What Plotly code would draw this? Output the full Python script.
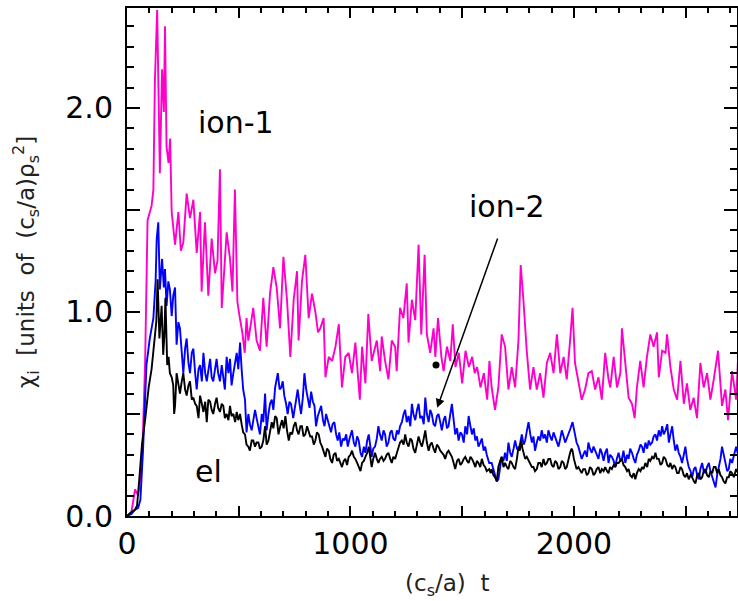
import plotly.graph_objects as go

# (time, chi) samples
ion1_points = [
(0,0.0),(20,0.02),(36,0.13),(50,0.10),(67,0.25),(81,0.75),(92,1.45),(99,1.48),(110,1.52),(118,1.60),
(125,2.14),(135,2.48),(141,2.10),(147,1.68),(157,2.19),(165,1.98),(170,2.40),(177,1.81),(186,1.73),(193,1.85),
(200,1.49),(215,1.33),(230,1.49),(241,1.30),(252,1.34),(267,1.58),(282,1.46),(297,1.55),(312,1.29),(327,1.49),
(334,1.10),(349,1.44),(364,1.08),(379,1.36),(394,1.19),(405,1.25),(416,1.70),(424,1.02),(435,1.20),(446,1.39),
(461,1.26),(472,1.10),(483,1.60),(494,1.05),(505,0.97),(516,0.90),(527,0.80),(535,0.97),(543,0.86),(555,0.95),
(565,1.02),(580,0.86),(595,0.81),(610,1.07),(625,0.83),(640,1.09),(655,1.22),(670,1.12),(685,0.92),(700,1.27),
(716,1.06),(731,0.78),(746,1.06),(761,1.20),(768,0.86),(783,1.15),(798,1.28),(813,0.97),(828,1.09),(843,1.00),
(855,0.90),(865,0.92),(880,0.97),(888,0.68),(903,0.78),(918,0.76),(933,0.83),(948,0.94),(962,0.63),(977,0.78),
(992,0.80),(1007,0.70),(1022,0.85),(1042,0.57),(1052,0.83),(1067,0.65),(1080,0.99),(1095,0.76),(1107,0.82),(1118,0.86),
(1133,0.71),(1140,0.88),(1155,0.76),(1170,0.67),(1185,0.86),(1200,0.83),(1207,0.71),(1222,1.02),(1237,0.97),(1252,1.14),
(1260,0.85),(1275,1.06),(1290,0.96),(1305,1.33),(1317,0.89),(1332,1.28),(1342,0.89),(1357,0.80),(1372,0.92),(1380,0.78),
(1392,0.97),(1407,0.78),(1417,0.71),(1432,0.83),(1447,0.76),(1458,0.94),(1470,0.73),(1485,0.80),(1500,0.65),(1515,0.81),
(1530,0.73),(1545,0.78),(1556,0.70),(1567,0.73),(1582,0.63),(1597,0.70),(1612,0.57),(1622,0.76),(1632,0.63),(1647,0.52),
(1662,0.63),(1677,0.89),(1692,0.83),(1707,0.62),(1722,0.73),(1737,0.63),(1752,0.86),(1762,1.23),(1774,1.06),(1789,0.81),
(1804,0.62),(1819,0.73),(1834,0.62),(1849,0.70),(1864,0.58),(1879,0.75),(1894,0.80),(1909,0.70),(1924,0.89),(1939,0.70),
(1954,0.78),(1968,0.67),(1983,0.86),(1994,1.02),(2005,0.75),(2020,0.65),(2035,0.57),(2050,0.62),(2065,0.70),(2080,0.71),
(2095,0.62),(2110,0.68),(2125,0.57),(2140,0.80),(2155,0.67),(2163,0.63),(2178,0.78),(2193,0.63),(2208,0.70),(2215,0.92),
(2230,0.73),(2245,0.58),(2260,0.55),(2272,0.48),(2282,0.63),(2297,0.76),(2312,0.63),(2327,0.78),(2342,0.89),(2357,0.83),
(2372,0.90),(2380,0.68),(2395,0.81),(2410,0.80),(2417,0.89),(2432,0.73),(2447,0.62),(2462,0.57),(2477,0.76),(2492,0.55),
(2506,0.65),(2521,0.52),(2536,0.58),(2551,0.48),(2566,0.75),(2581,0.63),(2596,0.70),(2611,0.57),(2626,0.67),(2645,0.81),
(2663,0.54),(2678,0.62),(2690,0.47),(2708,0.71),(2726,0.57),(2735,0.78),
]

ion2_points = [
(0,0.0),(20,0.01),(35,0.03),(50,0.04),(60,0.08),(72,0.33),(87,0.74),(102,0.87),(118,0.97),(128,1.15),
(133,1.36),(140,1.44),(147,1.11),(157,1.26),(165,1.12),(170,1.21),(177,1.03),(185,1.15),(192,1.11),(200,0.98),
(207,1.08),(215,1.12),(222,0.84),(230,0.95),(237,0.92),(245,0.80),(252,0.70),(260,0.82),(267,0.87),(275,0.75),
(282,0.70),(290,0.80),(297,0.82),(305,0.70),(312,0.62),(320,0.72),(327,0.74),(335,0.66),(342,0.80),(350,0.70),
(357,0.66),(365,0.72),(372,0.77),(379,0.68),(386,0.66),(394,0.72),(401,0.77),(408,0.70),(416,0.66),(424,0.74),
(431,0.68),(438,0.62),(446,0.78),(454,0.70),(461,0.77),(468,0.64),(476,0.70),(484,0.75),(491,0.80),(498,0.72),
(506,0.85),(513,0.72),(520,0.62),(528,0.57),(535,0.41),(543,0.50),(550,0.45),(558,0.42),(565,0.46),(573,0.52),
(580,0.48),(588,0.44),(595,0.40),(603,0.50),(610,0.46),(618,0.60),(625,0.42),(633,0.50),(640,0.55),(648,0.57),
(655,0.52),(663,0.63),(670,0.68),(675,0.70),(683,0.62),(690,0.63),(697,0.66),(704,0.59),(712,0.55),(719,0.50),
(727,0.56),(734,0.55),(744,0.48),(752,0.54),(758,0.58),(764,0.62),(772,0.55),(779,0.50),(787,0.58),(794,0.70),
(802,0.62),(809,0.57),(817,0.53),(824,0.61),(832,0.56),(839,0.54),(846,0.44),(854,0.49),(862,0.52),(869,0.54),
(877,0.47),(884,0.44),(891,0.50),(898,0.47),(906,0.44),(913,0.41),(920,0.45),(928,0.46),(936,0.40),(943,0.37),
(950,0.41),(958,0.34),(966,0.38),(973,0.37),(981,0.40),(988,0.34),(996,0.38),(1007,0.42),(1015,0.36),(1022,0.34),
(1030,0.39),(1037,0.37),(1045,0.31),(1052,0.29),(1060,0.34),(1067,0.31),(1075,0.37),(1082,0.40),(1088,0.35),(1095,0.29),
(1102,0.33),(1110,0.34),(1118,0.38),(1125,0.44),(1132,0.40),(1140,0.37),(1148,0.42),(1155,0.40),(1162,0.34),(1170,0.36),
(1178,0.41),(1185,0.42),(1192,0.38),(1200,0.37),(1208,0.42),(1215,0.40),(1222,0.44),(1230,0.46),(1238,0.50),(1245,0.52),
(1252,0.46),(1260,0.49),(1268,0.44),(1275,0.55),(1282,0.50),(1290,0.47),(1298,0.52),(1305,0.55),(1312,0.48),(1320,0.49),
(1328,0.45),(1335,0.58),(1342,0.50),(1350,0.46),(1357,0.52),(1364,0.50),(1372,0.45),(1379,0.44),(1387,0.49),(1394,0.50),
(1402,0.46),(1409,0.42),(1417,0.47),(1424,0.49),(1432,0.43),(1439,0.44),(1447,0.50),(1454,0.55),(1462,0.47),(1469,0.40),
(1477,0.43),(1484,0.37),(1492,0.41),(1499,0.40),(1507,0.36),(1514,0.44),(1522,0.40),(1529,0.49),(1537,0.44),(1544,0.40),
(1552,0.43),(1559,0.37),(1566,0.39),(1573,0.34),(1581,0.36),(1588,0.38),(1596,0.32),(1603,0.34),(1610,0.30),(1621,0.26),
(1632,0.26),(1640,0.23),(1647,0.21),(1655,0.17),(1662,0.18),(1670,0.24),(1677,0.29),(1685,0.27),(1692,0.31),(1700,0.27),
(1707,0.36),(1715,0.31),(1722,0.29),(1730,0.33),(1737,0.37),(1745,0.33),(1752,0.32),(1760,0.36),(1767,0.40),(1775,0.35),
(1782,0.37),(1790,0.42),(1797,0.46),(1805,0.40),(1812,0.36),(1819,0.39),(1826,0.32),(1834,0.36),(1841,0.39),(1849,0.37),
(1856,0.42),(1864,0.38),(1871,0.40),(1879,0.36),(1886,0.42),(1894,0.39),(1901,0.37),(1909,0.41),(1916,0.39),(1924,0.36),
(1931,0.34),(1939,0.38),(1946,0.42),(1954,0.39),(1961,0.36),(1968,0.38),(1976,0.40),(1985,0.43),(1994,0.46),(2005,0.40),
(2012,0.36),(2020,0.34),(2028,0.31),(2035,0.28),(2042,0.30),(2050,0.32),(2058,0.29),(2065,0.36),(2072,0.33),(2080,0.31),
(2088,0.34),(2095,0.32),(2102,0.30),(2110,0.28),(2118,0.33),(2125,0.31),(2133,0.27),(2140,0.31),(2148,0.33),(2155,0.26),
(2162,0.30),(2170,0.29),(2178,0.27),(2185,0.24),(2192,0.28),(2200,0.31),(2208,0.27),(2215,0.28),(2222,0.32),(2230,0.26),
(2238,0.30),(2245,0.28),(2252,0.33),(2260,0.31),(2268,0.28),(2275,0.26),(2282,0.30),(2290,0.32),(2298,0.35),(2305,0.34),
(2312,0.31),(2320,0.36),(2328,0.33),(2335,0.37),(2342,0.35),(2350,0.36),(2357,0.39),(2365,0.40),(2372,0.37),(2380,0.42),
(2388,0.39),(2395,0.44),(2402,0.40),(2410,0.42),(2418,0.45),(2425,0.36),(2432,0.40),(2440,0.44),(2447,0.37),(2454,0.32),
(2462,0.35),(2469,0.31),(2477,0.29),(2484,0.26),(2492,0.30),(2499,0.34),(2506,0.28),(2514,0.24),(2522,0.22),(2529,0.19),
(2537,0.23),(2544,0.24),(2552,0.20),(2559,0.18),(2566,0.23),(2574,0.26),(2581,0.22),(2589,0.21),(2596,0.24),(2604,0.26),
(2611,0.22),(2619,0.19),(2626,0.17),(2634,0.14),(2641,0.20),(2648,0.24),(2656,0.28),(2663,0.34),(2670,0.30),(2678,0.26),
(2686,0.22),(2693,0.23),(2700,0.28),(2708,0.26),(2716,0.30),(2726,0.34),(2735,0.30),
]

el_points = [
(0,0.0),(20,0.02),(35,0.03),(45,0.05),(55,0.18),(67,0.35),(82,0.48),(97,0.63),(110,0.72),(118,0.80),
(125,0.89),(131,0.95),(137,1.16),(145,0.87),(150,0.95),(155,1.03),(162,0.79),(167,0.88),(172,1.07),(180,0.74),
(186,0.78),(192,0.70),(200,0.68),(207,0.64),(211,0.50),(215,0.54),(222,0.70),(230,0.64),(237,0.60),(245,0.66),
(252,0.70),(260,0.62),(267,0.59),(275,0.64),(282,0.66),(290,0.57),(297,0.58),(305,0.55),(312,0.54),(320,0.48),
(327,0.59),(335,0.55),(342,0.51),(350,0.56),(357,0.46),(364,0.57),(372,0.56),(379,0.52),(386,0.50),(394,0.55),
(401,0.58),(408,0.53),(416,0.51),(424,0.55),(431,0.54),(438,0.48),(446,0.50),(454,0.47),(461,0.54),(468,0.49),
(476,0.50),(484,0.46),(491,0.51),(498,0.47),(506,0.50),(513,0.45),(520,0.41),(528,0.40),(535,0.35),(543,0.34),
(550,0.32),(558,0.37),(565,0.37),(573,0.34),(580,0.36),(588,0.36),(595,0.33),(603,0.34),(610,0.37),(618,0.44),
(625,0.35),(633,0.37),(640,0.42),(648,0.46),(655,0.43),(663,0.49),(670,0.48),(678,0.40),(686,0.44),(694,0.47),
(701,0.43),(709,0.49),(716,0.42),(724,0.37),(731,0.41),(739,0.40),(746,0.44),(754,0.46),(761,0.42),(768,0.40),
(776,0.44),(783,0.44),(790,0.39),(798,0.40),(806,0.44),(813,0.42),(820,0.39),(828,0.39),(836,0.35),(843,0.37),
(850,0.41),(858,0.40),(865,0.36),(873,0.34),(880,0.31),(888,0.29),(895,0.33),(903,0.32),(910,0.28),(918,0.26),
(925,0.30),(933,0.31),(940,0.27),(948,0.28),(955,0.26),(962,0.24),(970,0.27),(977,0.28),(985,0.25),(992,0.29),
(1000,0.30),(1007,0.32),(1015,0.29),(1022,0.28),(1030,0.26),(1037,0.24),(1045,0.22),(1052,0.26),(1060,0.27),(1067,0.29),
(1075,0.31),(1082,0.34),(1088,0.30),(1095,0.24),(1102,0.28),(1110,0.31),(1118,0.28),(1125,0.26),(1132,0.28),(1140,0.29),
(1148,0.27),(1155,0.28),(1162,0.30),(1170,0.31),(1178,0.28),(1185,0.26),(1192,0.29),(1200,0.28),(1208,0.31),(1215,0.34),
(1222,0.36),(1230,0.37),(1238,0.35),(1245,0.40),(1252,0.36),(1260,0.34),(1268,0.38),(1275,0.37),(1282,0.33),(1290,0.31),
(1298,0.35),(1305,0.39),(1312,0.36),(1320,0.34),(1328,0.38),(1335,0.42),(1342,0.36),(1350,0.32),(1357,0.35),(1364,0.36),
(1372,0.33),(1379,0.31),(1387,0.35),(1394,0.34),(1402,0.32),(1409,0.31),(1417,0.30),(1424,0.28),(1432,0.31),(1439,0.32),
(1447,0.30),(1454,0.29),(1462,0.26),(1469,0.23),(1477,0.27),(1484,0.28),(1492,0.25),(1499,0.26),(1507,0.28),(1514,0.29),
(1522,0.27),(1529,0.26),(1537,0.29),(1544,0.28),(1552,0.26),(1559,0.24),(1566,0.27),(1573,0.26),(1581,0.24),(1588,0.28),
(1596,0.25),(1603,0.24),(1610,0.22),(1621,0.23),(1628,0.21),(1632,0.23),(1640,0.20),(1647,0.19),(1655,0.17),(1662,0.24),
(1670,0.27),(1677,0.29),(1685,0.24),(1692,0.26),(1700,0.24),(1707,0.23),(1715,0.27),(1722,0.26),(1730,0.24),(1737,0.23),
(1745,0.28),(1752,0.34),(1758,0.32),(1764,0.37),(1770,0.33),(1774,0.31),(1782,0.28),(1789,0.29),(1797,0.27),(1804,0.26),
(1812,0.24),(1819,0.24),(1826,0.22),(1834,0.23),(1841,0.26),(1849,0.26),(1856,0.24),(1864,0.28),(1871,0.25),(1879,0.26),
(1886,0.28),(1894,0.28),(1901,0.25),(1909,0.24),(1916,0.27),(1924,0.26),(1931,0.23),(1939,0.24),(1946,0.27),(1954,0.26),
(1961,0.23),(1968,0.24),(1976,0.28),(1983,0.31),(1990,0.33),(1994,0.32),(2000,0.28),(2005,0.26),(2012,0.23),(2020,0.24),
(2028,0.22),(2035,0.21),(2042,0.23),(2050,0.23),(2058,0.20),(2065,0.21),(2072,0.24),(2080,0.23),(2088,0.20),(2095,0.21),
(2102,0.23),(2110,0.24),(2118,0.21),(2125,0.23),(2133,0.22),(2140,0.24),(2148,0.22),(2155,0.21),(2162,0.24),(2170,0.23),
(2178,0.25),(2185,0.24),(2192,0.26),(2200,0.26),(2208,0.27),(2215,0.28),(2222,0.25),(2230,0.24),(2238,0.22),(2245,0.23),
(2252,0.20),(2260,0.19),(2268,0.21),(2275,0.18),(2282,0.21),(2290,0.23),(2298,0.22),(2305,0.24),(2312,0.23),(2320,0.26),
(2328,0.24),(2335,0.28),(2342,0.27),(2350,0.29),(2357,0.28),(2365,0.31),(2372,0.28),(2380,0.28),(2388,0.25),(2395,0.26),
(2402,0.29),(2410,0.28),(2418,0.25),(2425,0.24),(2432,0.26),(2440,0.23),(2447,0.25),(2454,0.24),(2462,0.21),(2469,0.21),
(2477,0.24),(2484,0.23),(2492,0.20),(2499,0.19),(2506,0.21),(2514,0.18),(2522,0.20),(2529,0.19),(2537,0.17),(2544,0.16),
(2552,0.20),(2559,0.21),(2566,0.18),(2574,0.19),(2581,0.22),(2589,0.23),(2596,0.20),(2604,0.19),(2611,0.22),(2619,0.21),
(2626,0.24),(2634,0.24),(2641,0.21),(2648,0.23),(2656,0.20),(2663,0.19),(2670,0.17),(2678,0.16),(2686,0.19),(2693,0.19),
(2700,0.22),(2708,0.21),(2716,0.19),(2726,0.23),(2735,0.21),
]

x_tick_vals = [0, 500, 1000, 1500, 2000, 2500]
x_tick_text = ["0", "", "1000", "", "2000", ""]
y_tick_vals = [0.0, 0.5, 1.0, 1.5, 2.0]
y_tick_text = ["0.0", "", "1.0", "", "2.0"]

series = [
    ("ion-1", ion1_points, "#ff00cc"),
    ("ion-2", ion2_points, "#0000ff"),
    ("el", el_points, "#000000"),
]

fig = go.Figure()
for name, pts, col in series:
    fig.add_trace(go.Scatter(
        x=[p[0] for p in pts], y=[p[1] for p in pts], mode="lines", name=name,
        line=dict(color=col, width=1.9), showlegend=False, hoverinfo="skip"))

# small dot near the ion-2 arrow
fig.add_trace(go.Scatter(x=[1383], y=[0.74], mode="markers",
                         marker=dict(color="black", size=7), showlegend=False, hoverinfo="skip"))

font_main = "DejaVu Sans"
fig.update_layout(
    width=738, height=601,
    margin=dict(l=127, r=1, t=8, b=85),
    paper_bgcolor="white", plot_bgcolor="white",
    font=dict(family=font_main, size=30, color="black"),
)
fig.update_xaxes(
    range=[0, 2730], showgrid=False, zeroline=False, automargin=False,
    showline=True, linecolor="black", linewidth=2, mirror="allticks",
    ticks="inside", ticklen=10, tickwidth=2, tickcolor="black",
    tickmode="array", tickvals=x_tick_vals, ticktext=x_tick_text,
    tickfont=dict(family=font_main, size=30, color="black"),
    minor=dict(dtick=100, tick0=0, ticks="inside", ticklen=5, tickwidth=1.5, tickcolor="black"),
)
fig.update_yaxes(
    range=[0, 2.49], showgrid=False, zeroline=False, automargin=False,
    showline=True, linecolor="black", linewidth=2, mirror="allticks",
    ticks="inside", ticklen=13, tickwidth=2, tickcolor="black",
    tickmode="array", tickvals=y_tick_vals, ticktext=y_tick_text,
    tickfont=dict(family=font_main, size=30, color="black"),
    ticklabelstandoff=6,
    minor=dict(dtick=0.1, tick0=0, ticks="inside", ticklen=7, tickwidth=1.5, tickcolor="black"),
)

fig.add_annotation(x=488, y=1.93, xref="x", yref="y", text="ion-1", showarrow=False,
                   font=dict(family=font_main, size=30, color="black"))
fig.add_annotation(x=1701, y=1.515, xref="x", yref="y", text="ion-2", showarrow=False,
                   font=dict(family=font_main, size=30, color="black"))
fig.add_annotation(x=363, y=0.22, xref="x", yref="y", text="el", showarrow=False,
                   font=dict(family=font_main, size=30, color="black"))
# arrow pointing to ion-2 curve
fig.add_annotation(x=1388, y=0.53, ax=1661, ay=1.368, xref="x", yref="y", axref="x", ayref="y",
                   text="", showarrow=True, arrowhead=2, arrowsize=1.2, arrowwidth=1.5, arrowcolor="black")

# axis titles
fig.add_annotation(x=0.525, y=-0.136, xref="paper", yref="paper", xanchor="center", yanchor="middle",
                   text="(c<sub>s</sub>/a)  t", showarrow=False,
                   font=dict(family=font_main, size=23, color="#222"))
fig.add_annotation(x=-0.167, y=0.5, xref="paper", yref="paper", textangle=-90,
                   xanchor="center", yanchor="middle",
                   text="χ<sub>i</sub>  [units  of  (c<sub>s</sub>/a)ρ<sub>s</sub><sup>2</sup>]",
                   showarrow=False, font=dict(family=font_main, size=23, color="#222"))

fig.write_html("out.html", config={"displayModeBar": False},
               post_script="document.body.style.margin='0';document.body.style.overflow='hidden';")
